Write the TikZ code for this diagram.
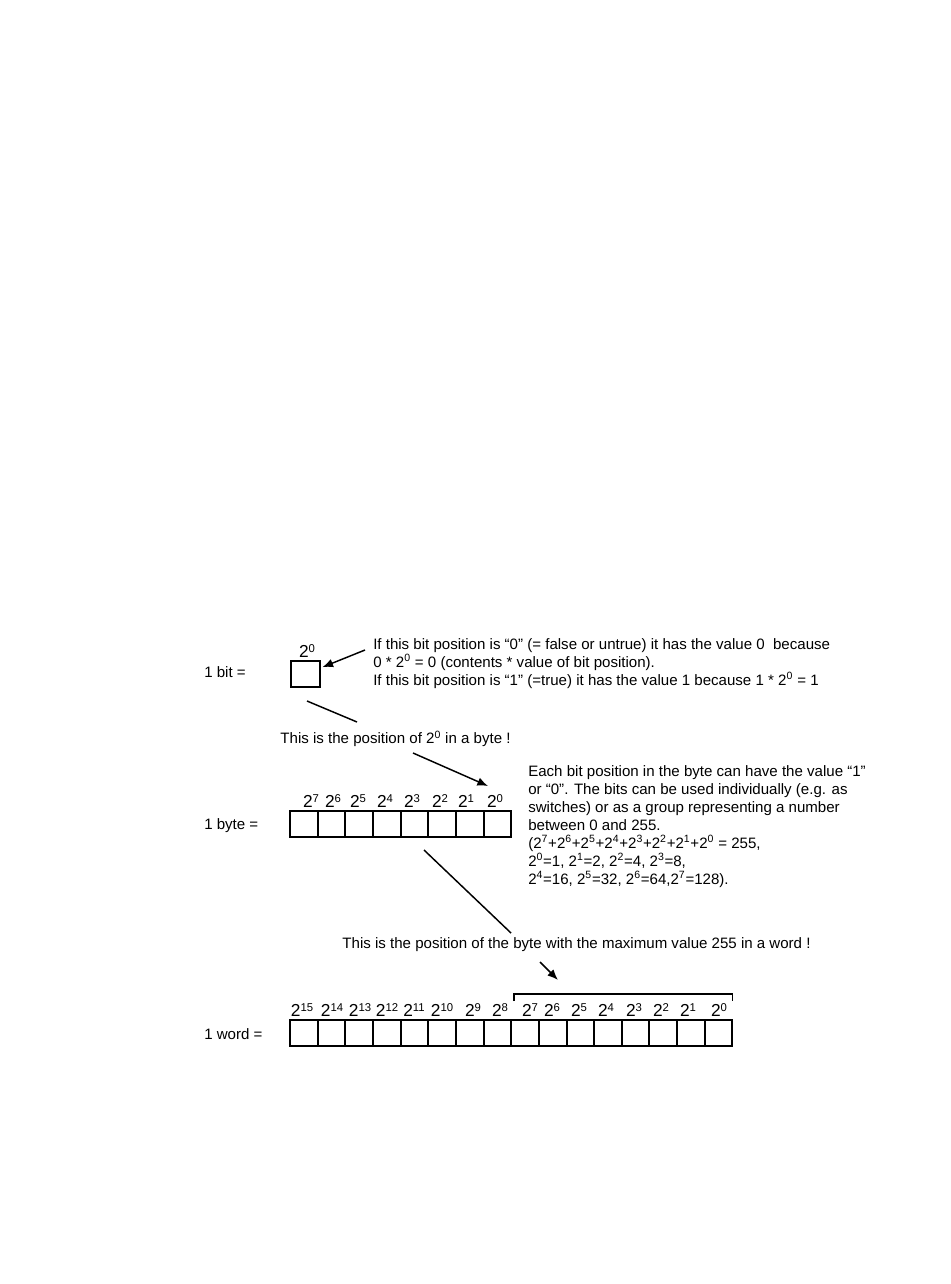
\documentclass[tikz,border=0pt]{standalone}
\usepackage{fontspec}
\setmainfont{Liberation Sans}
\usetikzlibrary{arrows.meta}
\newcommand{\pw}[1]{2\textsuperscript{#1}}
\newcommand{\cellpw}[1]{2\raisebox{3.5pt}{\fontsize{8.5}{9}\selectfont#1}}

\begin{document}
\begin{tikzpicture}[x=0.75pt,y=-0.75pt,
  cellrow/.style={line width=1.5pt},
  power/.style={font=\fontsize{13}{15}\selectfont, inner sep=0, anchor=base},
  note/.style={font=\fontsize{11.3}{13.5}\selectfont, inner sep=0, align=left},
  pointer/.style={line width=1.1pt, -{Latex[length=8pt,width=6.5pt]}}]
\useasboundingbox (0,0) rectangle (950,1284);

% 1 bit
\node[note, anchor=base west] (bitname) at (204,677.5) {1 bit =};
\node[draw, line width=1.5pt, minimum width=22pt, minimum height=19pt, inner sep=0] (bitbox) at (305.5,674) {};
\node[power] (bit0) at (307,657) {\cellpw{0}};
\node[note, anchor=north west] (bitnote) at (373,638)
  {If this bit position is “0” (= false or untrue) it has the value 0 \ because\\
   0 * \pw{0} = 0 (contents * value of bit position).\\
   If this bit position is “1” (=true) it has the value 1 because 1 * \pw{0} = 1};
\coordinate (bitfrom) at (365,650);
\draw[pointer, shorten >=1pt] (bitfrom) -- (bitbox.22);

% 1 byte
\node[note, anchor=base west] (bytename) at (204,829.5) {1 byte =};
\draw[cellrow] (290,811) rectangle (511.2,837);
\foreach \k in {1,...,7}
  \draw[cellrow] ({290+27.65*\k},811) -- ({290+27.65*\k},837);
\node[power] (bp7) at (311,807) {\cellpw{7}};
\node[power] (bp6) at (333,807) {\cellpw{6}};
\node[power] (bp5) at (358,807) {\cellpw{5}};
\node[power] (bp4) at (385,807) {\cellpw{4}};
\node[power] (bp3) at (412,807) {\cellpw{3}};
\node[power] (bp2) at (440,807) {\cellpw{2}};
\node[power] (bp1) at (466,807) {\cellpw{1}};
\node[power] (bp0) at (495,807) {\cellpw{0}};
\node[note, anchor=north west] (bytenote) at (528,765)
  {Each bit position in the byte can have the value “1”\\
   or “0”. The bits can be used individually (e.g. as\\
   switches) or as a group representing a number\\
   between 0 and 255.\\
   (\pw{7}+\pw{6}+\pw{5}+\pw{4}+\pw{3}+\pw{2}+\pw{1}+\pw{0} = 255,\\
   \pw{0}=1, \pw{1}=2, \pw{2}=4, \pw{3}=8,\\
   \pw{4}=16, \pw{5}=32, \pw{6}=64,\pw{7}=128).};

% from bit to byte
\coordinate (l1a) at (307,701);
\coordinate (l1b) at (357,722);
\coordinate (l1c) at (413,753);
\coordinate (l1d) at (488,786);
\draw[line width=1.1pt] (l1a) -- (l1b);
\draw[pointer] (l1c) -- (l1d);
\node[note, anchor=base] (bytepos) at (395.5,743.5) {This is the position of \pw{0} in a byte !};

% from byte to word
\coordinate (l2a) at (424,850);
\coordinate (l2b) at (511,933);
\coordinate (l2c) at (540,962);
\coordinate (l2d) at (558,980);
\draw[line width=1.1pt] (l2a) -- (l2b);
\draw[pointer] (l2c) -- (l2d);
\node[note, anchor=base] (wordpos) at (576.5,948.5)
  {This is the position of the byte with the maximum value 255 in a word !};

% 1 word
\node[note, anchor=base west] (wordname) at (204,1039.5) {1 word =};
\draw[cellrow] (290,1020) rectangle (732.4,1046);
\foreach \k in {1,...,15}
  \draw[cellrow] ({290+27.65*\k},1020) -- ({290+27.65*\k},1046);
\node[power] (wp15) at (302,1016) {\cellpw{15}};
\node[power] (wp14) at (332,1016) {\cellpw{14}};
\node[power] (wp13) at (360,1016) {\cellpw{13}};
\node[power] (wp12) at (387,1016) {\cellpw{12}};
\node[power] (wp11) at (414,1016) {\cellpw{11}};
\node[power] (wp10) at (442,1016) {\cellpw{10}};
\node[power] (wp9) at (473,1016) {\cellpw{9}};
\node[power] (wp8) at (500,1016) {\cellpw{8}};
\node[power] (wp7) at (530,1016) {\cellpw{7}};
\node[power] (wp6) at (552,1016) {\cellpw{6}};
\node[power] (wp5) at (579,1016) {\cellpw{5}};
\node[power] (wp4) at (606,1016) {\cellpw{4}};
\node[power] (wp3) at (634,1016) {\cellpw{3}};
\node[power] (wp2) at (661,1016) {\cellpw{2}};
\node[power] (wp1) at (688,1016) {\cellpw{1}};
\node[power] (wp0) at (719,1016) {\cellpw{0}};
\draw[line width=0.9pt] (514,1001) -- (514,994) -- (732.4,994) -- (732.4,1001);
\end{tikzpicture}
\end{document}
